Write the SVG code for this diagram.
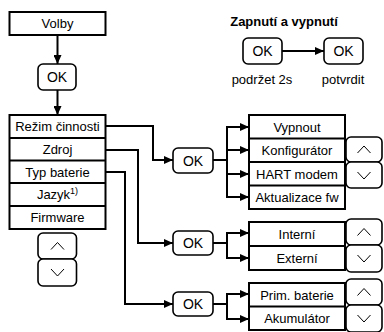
<svg xmlns="http://www.w3.org/2000/svg" width="384" height="332" viewBox="0 0 384 332">
  <defs>
    <style>
      text { font-family: "Liberation Sans", Arial, sans-serif; font-size: 13px; fill: #000; text-anchor: middle; }
      .title { font-weight: bold; }
      .ok { font-size: 14px; }
      .box { fill: #fff; stroke: #000; stroke-width: 2; }
      .key { fill: #fff; stroke: #000; stroke-width: 1.6; }
      .chev { fill: none; stroke: #000; stroke-width: 1; }
      .wire { fill: none; stroke: #000; stroke-width: 2; }
      .arr { fill: none; stroke: #000; stroke-width: 2; marker-end: url(#ah); }
      .sup { font-size: 9px; }
    </style>
    <marker id="ah" viewBox="0 0 9 8" refX="9" refY="4" markerWidth="4.5" markerHeight="4" markerUnits="strokeWidth" orient="auto">
      <path d="M0,0 L9,4 L0,8 Z" fill="#000"/>
    </marker>
  </defs>

  <!-- connectors -->
  <g id="connectors">
    <path class="arr" d="M57.5,35 V64"/>
    <path class="arr" d="M57.5,90 V115"/>
    <path class="arr" d="M282,51 H324"/>
    <!-- menu to OK keys -->
    <path class="arr" d="M106,126 H153 V160 H173"/>
    <path class="arr" d="M106,150 H138 V243 H173"/>
    <path class="arr" d="M106,172 H125 V304 H173"/>
    <!-- operation mode fan-out -->
    <path class="wire" d="M213,160 H227 M227,126 V197"/>
    <path class="arr" d="M226,127 H249"/>
    <path class="arr" d="M226,150 H249"/>
    <path class="arr" d="M226,174 H249"/>
    <path class="arr" d="M226,197 H249"/>
    <!-- source fan-out -->
    <path class="wire" d="M213,243 H227 M227,233 V258"/>
    <path class="arr" d="M226,233 H249"/>
    <path class="arr" d="M226,258 H249"/>
    <!-- battery type fan-out -->
    <path class="wire" d="M213,304 H227 M227,294 V319"/>
    <path class="arr" d="M226,294 H249"/>
    <path class="arr" d="M226,319 H249"/>
  </g>

  <g id="volby">
    <rect class="box" x="9.5" y="12" width="96" height="23"/>
    <text x="57.5" y="28">Volby</text>
  </g>

  <g id="ok-main">
    <rect class="key" x="38" y="64" width="38" height="26" rx="5"/>
    <text class="ok" x="57" y="82">OK</text>
  </g>

  <g id="menu">
    <rect class="box" x="9.5" y="115" width="96" height="114"/>
    <path class="wire" d="M9.5,138 H105.5 M9.5,160.5 H105.5 M9.5,183 H105.5 M9.5,206 H105.5"/>
    <text x="57.5" y="131">Režim činnosti</text>
    <text x="57.5" y="154">Zdroj</text>
    <text x="57.5" y="176.5">Typ baterie</text>
    <text x="57.5" y="199">Jazyk<tspan class="sup" dy="-5">1)</tspan></text>
    <text x="57.5" y="222">Firmware</text>
  </g>

  <g id="menu-keys">
    <rect class="key" x="38" y="233" width="38.5" height="26" rx="5"/>
    <path class="chev" d="M51,249.5 L57.5,242.5 L64,249.5"/>
    <rect class="key" x="38" y="259" width="38.5" height="27" rx="5"/>
    <path class="chev" d="M51,269 L57.5,276 L64,269"/>
  </g>

  <g id="power">
    <text class="title" x="284" y="26">Zapnutí a vypnutí</text>
    <rect class="key" x="243" y="38" width="39" height="26" rx="5"/>
    <text class="ok" x="262.5" y="56">OK</text>
    <rect class="key" x="324" y="38" width="39" height="26" rx="5"/>
    <text class="ok" x="343.5" y="56">OK</text>
    <text x="262" y="84">podržet 2s</text>
    <text x="343" y="84">potvrdit</text>
  </g>

  <g id="ok-mode">
    <rect class="key" x="173" y="148" width="40" height="25" rx="5"/>
    <text class="ok" x="193" y="165.5">OK</text>
  </g>
  <g id="ok-source">
    <rect class="key" x="173" y="231" width="40" height="24" rx="5"/>
    <text class="ok" x="193" y="248">OK</text>
  </g>
  <g id="ok-battery">
    <rect class="key" x="173" y="292" width="40" height="24" rx="5"/>
    <text class="ok" x="193" y="309">OK</text>
  </g>

  <g id="mode-list">
    <rect class="box" x="249" y="115" width="96" height="94"/>
    <path class="wire" d="M249,138.5 H345 M249,162 H345 M249,185.5 H345"/>
    <text x="297" y="131.5">Vypnout</text>
    <text x="297" y="155">Konfigurátor</text>
    <text x="297" y="178.5">HART modem</text>
    <text x="297" y="202">Aktualizace fw</text>
  </g>
  <g id="mode-keys">
    <rect class="key" x="346" y="137" width="36" height="25" rx="5"/>
    <path class="chev" d="M357.5,153 L364,146 L370.5,153"/>
    <rect class="key" x="346" y="162" width="36" height="26" rx="5"/>
    <path class="chev" d="M357.5,172 L364,179 L370.5,172"/>
  </g>

  <g id="source-list">
    <rect class="box" x="249" y="222" width="96" height="48"/>
    <path class="wire" d="M249,246 H345"/>
    <text x="297" y="238.5">Interní</text>
    <text x="297" y="262.5">Externí</text>
  </g>
  <g id="source-keys">
    <rect class="key" x="346" y="219" width="36" height="26" rx="5"/>
    <path class="chev" d="M357.5,235.5 L364,228.5 L370.5,235.5"/>
    <rect class="key" x="346" y="245" width="36" height="27" rx="5"/>
    <path class="chev" d="M357.5,255 L364,262 L370.5,255"/>
  </g>

  <g id="battery-list">
    <rect class="box" x="249" y="283" width="96" height="47"/>
    <path class="wire" d="M249,306.5 H345"/>
    <text x="297" y="299.5">Prim. baterie</text>
    <text x="297" y="323">Akumulátor</text>
  </g>
  <g id="battery-keys">
    <rect class="key" x="346" y="279" width="36" height="26" rx="5"/>
    <path class="chev" d="M357.5,295.5 L364,288.5 L370.5,295.5"/>
    <rect class="key" x="346" y="305" width="36" height="27" rx="5"/>
    <path class="chev" d="M357.5,315 L364,322 L370.5,315"/>
  </g>
</svg>
